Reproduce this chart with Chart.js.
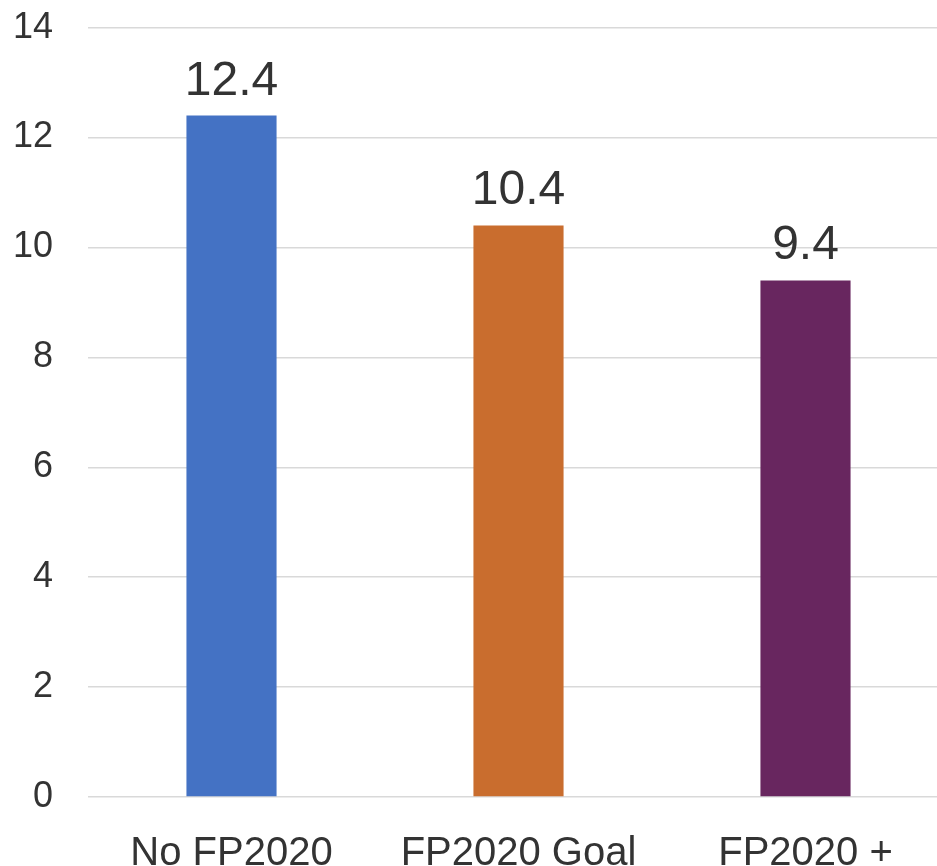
<!DOCTYPE html>
<html>
<head>
<meta charset="utf-8">
<script src="https://cdn.jsdelivr.net/npm/chart.js@4/dist/chart.umd.min.js"></script>
<style>
html,body{margin:0;padding:0;background:#fff;overflow:hidden;}
#wrap{position:absolute;left:0;top:-29px;width:949px;height:929px;}
</style>
</head>
<body>
<div id="wrap"><canvas id="c"></canvas></div>
<script>
const categories = ["No FP2020", "FP2020 Goal", "FP2020 +"];
const values = [12.4, 10.4, 9.4];
const barColors = ["#4472C4", "#C96D2E", "#68265F"];
const yTicks = [0, 2, 4, 6, 8, 10, 12, 14];

const FONT = '"Liberation Sans", Arial, sans-serif';
const TEXT = '#333333';

const valueLabels = {
  id: 'valueLabels',
  afterDatasetsDraw(chart) {
    const ctx = chart.ctx;
    const meta = chart.getDatasetMeta(0);
    ctx.save();
    ctx.font = '48px ' + FONT;
    ctx.fillStyle = TEXT;
    ctx.textAlign = 'center';
    ctx.textBaseline = 'alphabetic';
    meta.data.forEach((bar, i) => {
      ctx.fillText(values[i].toFixed(1), bar.x, bar.y - 21);
    });
    ctx.restore();
  }
};

new Chart(document.getElementById('c'), {
  type: 'bar',
  data: {
    labels: categories,
    datasets: [{
      data: values,
      backgroundColor: barColors,
      borderWidth: 0,
      categoryPercentage: 1,
      barPercentage: 0.314
    }]
  },
  options: {
    responsive: true,
    maintainAspectRatio: false,
    animation: false,
    devicePixelRatio: 1,
    layout: { padding: { top: 0, right: 0, left: 0, bottom: 0 } },
    plugins: { legend: { display: false }, tooltip: { enabled: false } },
    scales: {
      x: {
        grid: { display: false, drawTicks: false },
        border: { display: false },
        ticks: { font: { family: FONT, size: 40 }, color: TEXT, padding: 33, maxRotation: 0, autoSkip: false },
        afterFit(s) { s.height = 103; }
      },
      y: {
        min: 0, max: 14,
        afterBuildTicks(s) { s.ticks = yTicks.map(v => ({ value: v })); },
        grid: { color: '#d9d9d9', lineWidth: 1.5, drawTicks: false },
        border: { display: false },
        ticks: { font: { family: FONT, size: 36 }, color: TEXT, padding: 35 },
        afterFit(s) { s.width = 88; }
      }
    }
  },
  plugins: [valueLabels]
});
</script>
</body>
</html>
